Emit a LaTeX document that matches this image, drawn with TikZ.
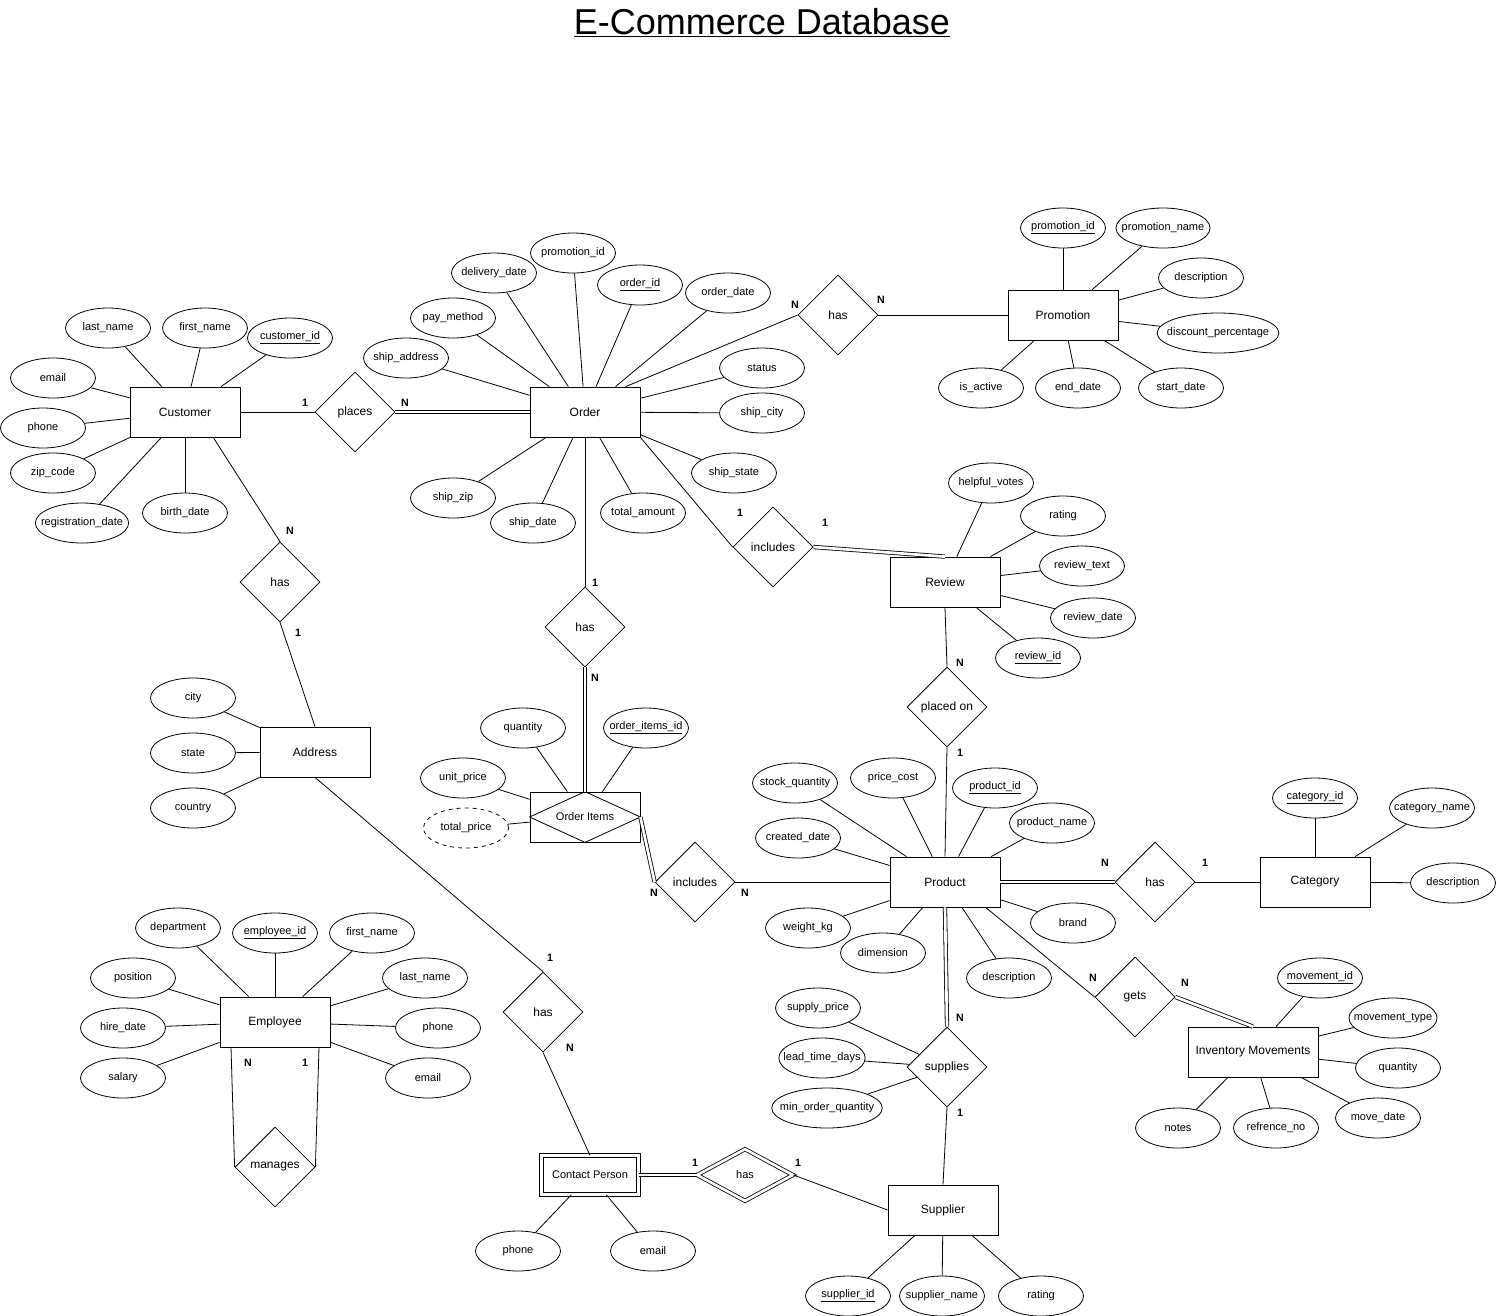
\documentclass[tikz,border=0pt]{standalone}
\usepackage{fontspec}
\setmainfont{Liberation Sans}
\usetikzlibrary{shapes.geometric,positioning}

\newcommand{\keyattr}[1]{\underline{#1}}

\tikzset{
  entity/.style={draw, rectangle, minimum width=82.5pt, minimum height=37.5pt, font=\fontsize{9}{11}\selectfont},
  weakentity/.style={entity, double, double distance=2.5pt, minimum width=73pt, minimum height=29pt, font=\fontsize{8.25}{10}\selectfont},
  attr/.style={draw, ellipse, minimum width=63.75pt, minimum height=30pt, inner xsep=-6pt, inner ysep=0pt, font=\fontsize{8.25}{10}\selectfont},
  derived/.style={attr, dashed},
  rel/.style={draw, diamond, minimum width=60pt, minimum height=60pt, inner sep=0pt, font=\fontsize{9}{11}\selectfont},
  weakrel/.style={rel, double, double distance=2pt, minimum width=72pt, minimum height=39pt, font=\fontsize{8.25}{10}\selectfont},
  card/.style={inner sep=0pt, font=\bfseries\fontsize{8}{10}\selectfont},
  total/.style={double, double distance=2pt},
}

\begin{document}
\begin{tikzpicture}[x=0.75pt, y=-0.75pt, line width=0.6pt]
  \useasboundingbox (0,0) rectangle (1497,1315);

  % Title
  \node (title) at (762,23) {\fontsize{27}{32}\selectfont\underline{E-Commerce Database}};

  % Entities
  \node[entity] (cust) at (185,412) {Customer};
  \node[entity] (ord) at (585,412) {Order};
  \node[entity] (promo) at (1063,315) {Promotion};
  \node[entity] (rev) at (945,582) {Review};
  \node[entity] (addr) at (315,752) {Address};
  \node[entity, font=\fontsize{8.25}{10}\selectfont] (oitems) at (585,817) {Order Items};
  \draw (oitems.west) -- (oitems.north) -- (oitems.east) -- (oitems.south) -- cycle;
  \node[entity] (prod) at (945,882) {Product};
  \node[entity] (cat) at (1315,882) {Category};
  \node[entity, minimum width=97.5pt] (inv) at (1253,1052) {Inventory Movements};
  \node[entity] (emp) at (275,1022) {Employee};
  \node[weakentity] (cperson) at (590,1175) {Contact Person};
  \node[entity] (supp) at (943,1210) {Supplier};

  % Relationships
  \node[rel] (places) at (355,412) {places};
  \node[rel] (ordpromo) at (838,315) {has};
  \node[rel] (ordrev) at (773,547) {includes};
  \node[rel] (custaddr) at (280,582) {has};
  \node[rel] (orditems) at (585,627) {has};
  \node[rel] (placedon) at (947,707) {placed on};
  \node[rel] (itemprod) at (695,882) {includes};
  \node[rel] (prodcat) at (1155,882) {has};
  \node[rel] (gets) at (1135,997) {gets};
  \node[rel] (supplies) at (947,1067) {supplies};
  \node[rel] (addrcp) at (543,1012) {has};
  \node[rel] (manages) at (275,1167) {manages};
  \node[weakrel] (cpsupp) at (745,1175) {has};

  % Customer attributes
  \node[attr] (cust-lname) at (108,328) {last\_name};
  \node[attr] (cust-fname) at (205,328) {first\_name};
  \node[attr] (cust-id) at (290,338) {\keyattr{customer\_id}};
  \node[attr] (cust-email) at (53,378) {email};
  \node[attr] (cust-phone) at (43,428) {phone};
  \node[attr] (cust-zip) at (53,473) {zip\_code};
  \node[attr] (cust-reg) at (82,523) {registration\_date};
  \node[attr] (cust-birth) at (185,513) {birth\_date};
  \draw (cust-lname) -- (cust);
  \draw (cust-fname) -- (cust);
  \draw (cust-id) -- (cust);
  \draw (cust-email) -- (cust);
  \draw (cust-phone) -- (cust);
  \draw (cust-zip) -- (cust);
  \draw (cust-reg) -- (cust);
  \draw (cust-birth) -- (cust);

  % Order attributes
  \node[attr] (ord-promo) at (573,253) {promotion\_id};
  \node[attr] (ord-deliv) at (494,273) {delivery\_date};
  \node[attr] (ord-id) at (640,285) {\keyattr{order\_id}};
  \node[attr] (ord-date) at (728,293) {order\_date};
  \node[attr] (ord-pay) at (453,318) {pay\_method};
  \node[attr] (ord-addr) at (406,358) {ship\_address};
  \node[attr] (ord-status) at (762,368) {status};
  \node[attr] (ord-city) at (762,413) {ship\_city};
  \node[attr] (ord-state) at (734,473) {ship\_state};
  \node[attr] (ord-zip) at (453,498) {ship\_zip};
  \node[attr] (ord-sdate) at (533,523) {ship\_date};
  \node[attr] (ord-total) at (643,513) {total\_amount};
  \draw (ord-promo) -- (ord);
  \draw (ord-deliv) -- (ord);
  \draw (ord-id) -- (ord);
  \draw (ord-date) -- (ord);
  \draw (ord-pay) -- (ord);
  \draw (ord-addr) -- (ord);
  \draw (ord-status) -- (ord);
  \draw (ord-city) -- (ord);
  \draw (ord-state) -- (ord);
  \draw (ord-zip) -- (ord);
  \draw (ord-sdate) -- (ord);
  \draw (ord-total) -- (ord);

  % Promotion attributes
  \node[attr] (promo-id) at (1063,228) {\keyattr{promotion\_id}};
  \node[attr] (promo-name) at (1163,228) {promotion\_name};
  \node[attr] (promo-desc) at (1201,278) {description};
  \node[attr] (promo-disc) at (1218,333) {discount\_percentage};
  \node[attr] (promo-active) at (981,388) {is\_active};
  \node[attr] (promo-end) at (1078,388) {end\_date};
  \node[attr] (promo-start) at (1181,388) {start\_date};
  \draw (promo-id) -- (promo);
  \draw (promo-name) -- (promo);
  \draw (promo-desc) -- (promo);
  \draw (promo-disc) -- (promo);
  \draw (promo-active) -- (promo);
  \draw (promo-end) -- (promo);
  \draw (promo-start) -- (promo);

  % Review attributes
  \node[attr] (rev-votes) at (991,483) {helpful\_votes};
  \node[attr] (rev-rating) at (1063,516) {rating};
  \node[attr] (rev-text) at (1082,566) {review\_text};
  \node[attr] (rev-date) at (1093,618) {review\_date};
  \node[attr] (rev-id) at (1038,658) {\keyattr{review\_id}};
  \draw (rev-votes) -- (rev);
  \draw (rev-rating) -- (rev);
  \draw (rev-text) -- (rev);
  \draw (rev-date) -- (rev);
  \draw (rev-id) -- (rev);

  % Address attributes
  \node[attr] (addr-city) at (193,698) {city};
  \node[attr] (addr-state) at (193,753) {state};
  \node[attr] (addr-country) at (193,808) {country};
  \draw (addr-city) -- (addr);
  \draw (addr-state) -- (addr);
  \draw (addr-country) -- (addr);

  % Order Items attributes
  \node[attr] (oitems-qty) at (523,728) {quantity};
  \node[attr] (oitems-id) at (646,728) {\keyattr{order\_items\_id}};
  \node[attr] (oitems-unit) at (463,778) {unit\_price};
  \node[derived] (oitems-total) at (466,828) {total\_price};
  \draw (oitems-qty) -- (oitems);
  \draw (oitems-id) -- (oitems);
  \draw (oitems-unit) -- (oitems);
  \draw (oitems-total) -- (oitems);

  % Product attributes
  \node[attr] (prod-stock) at (795,783) {stock\_quantity};
  \node[attr] (prod-price) at (893,778) {price\_cost};
  \node[attr] (prod-id) at (995,788) {\keyattr{product\_id}};
  \node[attr] (prod-name) at (1052,823) {product\_name};
  \node[attr] (prod-created) at (798,838) {created\_date};
  \node[attr] (prod-weight) at (808,928) {weight\_kg};
  \node[attr] (prod-dim) at (883,953) {dimension};
  \node[attr] (prod-brand) at (1073,923) {brand};
  \node[attr] (prod-desc) at (1009,978) {description};
  \draw (prod-stock) -- (prod);
  \draw (prod-price) -- (prod);
  \draw (prod-id) -- (prod);
  \draw (prod-name) -- (prod);
  \draw (prod-created) -- (prod);
  \draw (prod-weight) -- (prod);
  \draw (prod-dim) -- (prod);
  \draw (prod-brand) -- (prod);
  \draw (prod-desc) -- (prod);

  % Category attributes
  \node[attr] (cat-id) at (1315,798) {\keyattr{category\_id}};
  \node[attr] (cat-name) at (1432,808) {category\_name};
  \node[attr] (cat-desc) at (1453,883) {description};
  \draw (cat-id) -- (cat);
  \draw (cat-name) -- (cat);
  \draw (cat-desc) -- (cat);

  % Inventory Movements attributes
  \node[attr] (inv-id) at (1320,978) {\keyattr{movement\_id}};
  \node[attr] (inv-type) at (1393,1018) {movement\_type};
  \node[attr] (inv-qty) at (1398,1068) {quantity};
  \node[attr] (inv-date) at (1378,1118) {move\_date};
  \node[attr] (inv-notes) at (1178,1128) {notes};
  \node[attr] (inv-ref) at (1276,1128) {refrence\_no};
  \draw (inv-id) -- (inv);
  \draw (inv-type) -- (inv);
  \draw (inv-qty) -- (inv);
  \draw (inv-date) -- (inv);
  \draw (inv-notes) -- (inv);
  \draw (inv-ref) -- (inv);

  % Employee attributes
  \node[attr] (emp-dept) at (178,928) {department};
  \node[attr] (emp-id) at (275,933) {\keyattr{employee\_id}};
  \node[attr] (emp-fname) at (372,933) {first\_name};
  \node[attr] (emp-pos) at (133,978) {position};
  \node[attr] (emp-lname) at (425,978) {last\_name};
  \node[attr] (emp-hire) at (123,1028) {hire\_date};
  \node[attr] (emp-phone) at (438,1028) {phone};
  \node[attr] (emp-salary) at (123,1078) {salary};
  \node[attr] (emp-email) at (428,1078) {email};
  \draw (emp-dept) -- (emp);
  \draw (emp-id) -- (emp);
  \draw (emp-fname) -- (emp);
  \draw (emp-pos) -- (emp);
  \draw (emp-lname) -- (emp);
  \draw (emp-hire) -- (emp);
  \draw (emp-phone) -- (emp);
  \draw (emp-salary) -- (emp);
  \draw (emp-email) -- (emp);

  % Contact Person attributes
  \node[attr] (cp-phone) at (518,1251) {phone};
  \node[attr] (cp-email) at (653,1251) {email};
  \draw (cp-phone) -- (cperson);
  \draw (cp-email) -- (cperson);

  % supplies attributes
  \node[attr] (sup-price) at (818,1008) {supply\_price};
  \node[attr] (sup-lead) at (822,1058) {lead\_time\_days};
  \node[attr] (sup-min) at (827,1108) {min\_order\_quantity};
  \draw (sup-price) -- (supplies);
  \draw (sup-lead) -- (supplies);
  \draw (sup-min) -- (supplies);

  % Supplier attributes
  \node[attr] (supp-id) at (848,1296) {\keyattr{supplier\_id}};
  \node[attr] (supp-name) at (942,1296) {supplier\_name};
  \node[attr] (supp-rating) at (1041,1296) {rating};
  \draw (supp-id) -- (supp);
  \draw (supp-name) -- (supp);
  \draw (supp-rating) -- (supp);

  % Relationship lines
  \draw (cust.east) -- (places.west);
  \draw[total] (places.east) -- (ord.west);
  \draw (ord.32) -- (ordpromo.west);
  \draw (ordpromo.east) -- (promo.west);
  \draw (ord.south east) -- (ordrev.west);
  \draw[total] (ordrev.east) -- (rev.north);
  \draw (cust.-42) -- (custaddr.north);
  \draw (custaddr.south) -- (addr.north);
  \draw (ord.south) -- (orditems.north);
  \draw[total] (orditems.south) -- (oitems.north);
  \draw (rev.south) -- (placedon.north);
  \draw (placedon.south) -- (prod.north);
  \draw[total] (oitems.east) -- (itemprod.west);
  \draw (itemprod.east) -- (prod.west);
  \draw[total] (prod.east) -- (prodcat.west);
  \draw (prodcat.east) -- (cat.west);
  \draw (prod.-32) -- (gets.west);
  \draw[total] (gets.east) -- (inv.north);
  \draw[total] (prod.south) -- (supplies.north);
  \draw (supplies.south) -- (supp.north);
  \draw (addr.south) -- (addrcp.north);
  \draw (addrcp.south) -- (cperson.north);
  \draw[total] (cperson.east) -- (cpsupp.west);
  \draw (cpsupp.east) -- (supp.west);
  \draw (emp.210) -- (manages.west);
  \draw (emp.-30) -- (manages.east);

  % Cardinalities
  \node[card] (places-1) at (305,403) {1};
  \node[card] (places-n) at (405,403) {N};
  \node[card] (ordpromo-n1) at (795,305) {N};
  \node[card] (ordpromo-n2) at (881,300) {N};
  \node[card] (ordrev-1a) at (740,513) {1};
  \node[card] (ordrev-1b) at (825,523) {1};
  \node[card] (custaddr-n) at (290,531) {N};
  \node[card] (custaddr-1) at (298,633) {1};
  \node[card] (orditems-1) at (595,583) {1};
  \node[card] (orditems-n) at (595,678) {N};
  \node[card] (placedon-n) at (960,663) {N};
  \node[card] (placedon-1) at (960,753) {1};
  \node[card] (itemprod-n1) at (654,893) {N};
  \node[card] (itemprod-n2) at (745,893) {N};
  \node[card] (prodcat-n) at (1105,863) {N};
  \node[card] (prodcat-1) at (1205,863) {1};
  \node[card] (gets-n1) at (1093,978) {N};
  \node[card] (gets-n2) at (1185,983) {N};
  \node[card] (supplies-n) at (960,1018) {N};
  \node[card] (supplies-1) at (960,1113) {1};
  \node[card] (addrcp-1) at (550,958) {1};
  \node[card] (addrcp-n) at (570,1048) {N};
  \node[card] (manages-n) at (248,1063) {N};
  \node[card] (manages-1) at (305,1063) {1};
  \node[card] (cpsupp-1a) at (695,1163) {1};
  \node[card] (cpsupp-1b) at (798,1163) {1};
\end{tikzpicture}
\end{document}
